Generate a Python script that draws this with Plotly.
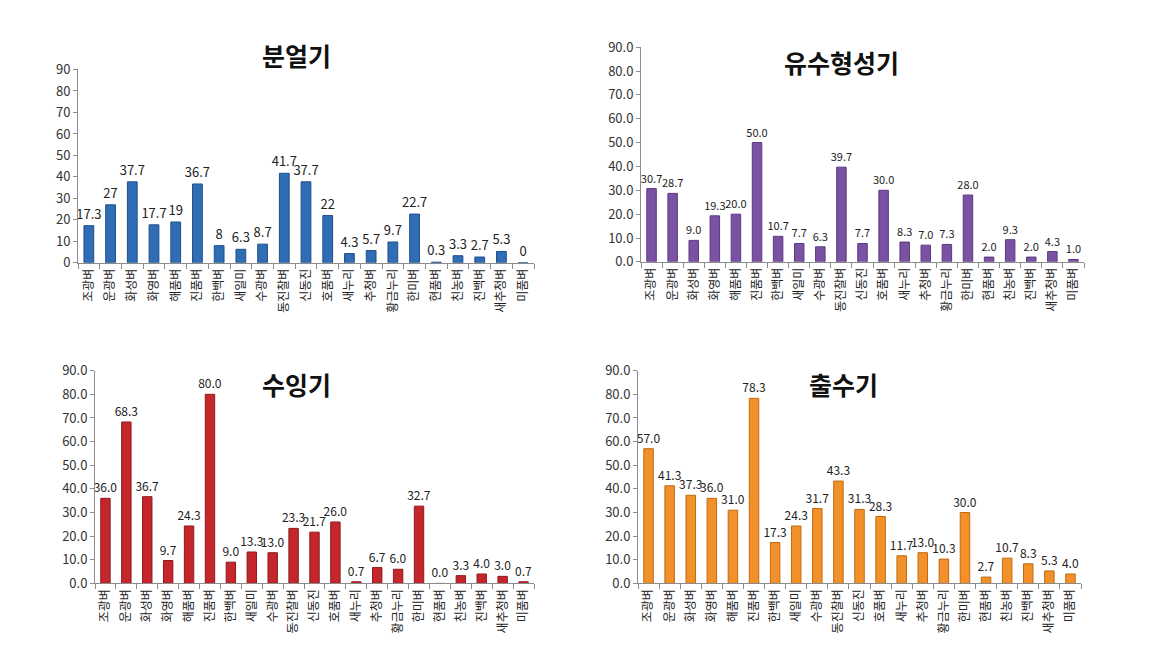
import plotly.graph_objects as go

categories = ["조광벼", "운광벼", "화성벼", "화영벼", "해품벼", "진품벼", "한백벼", "새일미", "수광벼",
              "동진찰벼", "신동진", "호품벼", "새누리", "추청벼", "황금누리", "한미벼", "현품벼",
              "친농벼", "진백벼", "새추청벼", "미품벼"]

tillering = [17.3, 27, 37.7, 17.7, 19, 36.7, 8, 6.3, 8.7, 41.7, 37.7, 22, 4.3, 5.7, 9.7, 22.7,
             0.3, 3.3, 2.7, 5.3, 0]
panicle = [30.7, 28.7, 9.0, 19.3, 20.0, 50.0, 10.7, 7.7, 6.3, 39.7, 7.7, 30.0, 8.3, 7.0, 7.3,
           28.0, 2.0, 9.3, 2.0, 4.3, 1.0]
booting = [36.0, 68.3, 36.7, 9.7, 24.3, 80.0, 9.0, 13.3, 13.0, 23.3, 21.7, 26.0, 0.7, 6.7, 6.0,
           32.7, 0.0, 3.3, 4.0, 3.0, 0.7]
heading = [57.0, 41.3, 37.3, 36.0, 31.0, 78.3, 17.3, 24.3, 31.7, 43.3, 31.3, 28.3, 11.7, 13.0,
           10.3, 30.0, 2.7, 10.7, 8.3, 5.3, 4.0]

titles = ["분얼기", "유수형성기", "수잉기", "출수기"]
yticks = list(range(0, 100, 10))

W, H = 1168, 668
FONT = "Noto Sans CJK KR"

panels = [
    dict(data=tillering, color="#2F6DB5", line="#1F4F8A", box=(70, 526, 53, 252),
         fmt="{:g}", tfmt="d", title_xy=(288, 38), tsize=13),
    dict(data=panicle, color="#7A52A3", line="#5A3A80", box=(633, 1076, 30, 251),
         fmt="{:.1f}", tfmt=".1f", title_xy=(833, 45), tsize=11),
    dict(data=booting, color="#C4262B", line="#8E1A1E", box=(87, 526, 363, 582),
         fmt="{:.1f}", tfmt=".1f", title_xy=(288, 377), tsize=12),
    dict(data=heading, color="#F2902A", line="#C06A10", box=(630, 1073, 363, 582),
         fmt="{:.1f}", tfmt=".1f", title_xy=(835, 377), tsize=12),
]

fig = go.Figure()
layout = dict(width=W, height=H, margin=dict(l=0, r=0, t=0, b=0),
              paper_bgcolor="white", plot_bgcolor="white", showlegend=False,
              font=dict(family=FONT, color="#333333"))
annotations = []
for i, p in enumerate(panels):
    n = "" if i == 0 else str(i + 1)
    x0, x1, ytop, ybot = p["box"]
    fig.add_trace(go.Bar(
        x=categories, y=p["data"], xaxis="x" + n, yaxis="y" + n,
        marker=dict(color=p["color"], line=dict(color=p["line"], width=1)),
        text=[p["fmt"].format(v) for v in p["data"]], texttemplate="%{text}",
        textposition="outside", cliponaxis=False, constraintext="none",
        textfont=dict(size=p["tsize"], color="#222222", family=FONT),
        width=0.45,
    ))
    layout["xaxis" + n] = dict(
        domain=[x0 / W, x1 / W], anchor="y" + n, type="category",
        tickangle=-90, tickfont=dict(size=12, family=FONT, color="#222222"),
        showline=True, linecolor="#8C8C8C", linewidth=1,
        ticks="outside", ticklen=5, tickcolor="#8C8C8C", tickson="boundaries",
        showgrid=False, fixedrange=True,
    )
    layout["yaxis" + n] = dict(
        domain=[1 - ybot / H, 1 - ytop / H], anchor="x" + n,
        range=[0, 90], tickvals=yticks, tickformat=p["tfmt"],
        tickfont=dict(size=13, family=FONT, color="#333333"),
        showline=True, linecolor="#8C8C8C", linewidth=1,
        ticks="outside", ticklen=4, tickcolor="#8C8C8C",
        showgrid=False, zeroline=False, fixedrange=True,
    )
    tx, ty = p["title_xy"]
    annotations.append(dict(
        text="<b>" + titles[i] + "</b>", x=tx / W, y=1 - ty / H, xref="paper", yref="paper",
        xanchor="center", yanchor="middle", showarrow=False,
        font=dict(size=25, family=FONT, color="#111111"),
    ))
layout["annotations"] = annotations
fig.update_layout(**layout)
fig.write_html("out.html")
